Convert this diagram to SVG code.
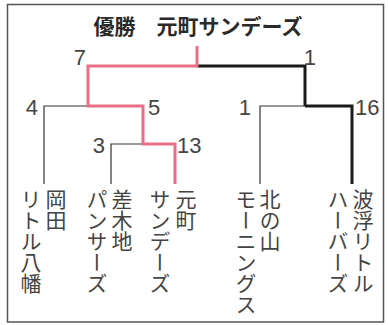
<svg xmlns="http://www.w3.org/2000/svg" width="388" height="325" viewBox="0 0 388 325">
<style>
.num{font-family:"Liberation Sans","Noto Sans",sans-serif;font-size:22px;fill:#444}
.name{font-family:"Noto Sans CJK JP",sans-serif;font-size:21px;fill:#444;writing-mode:vertical-rl}
.thin{stroke:#333;stroke-width:1.2;fill:none}
.pink{stroke:#e86f87;stroke-width:3;fill:none}
.bold{stroke:#1a1a1a;stroke-width:3;fill:none}
</style>
<rect x="7.5" y="4.5" width="376" height="317.5" fill="#fff" stroke="#555" stroke-width="1.5"/>
<text x="198" y="34" text-anchor="middle" font-family="Noto Sans CJK JP, sans-serif" font-size="21" font-weight="bold" fill="#2a2a2a">優勝　元町サンデーズ</text>
<g id="connectors">
<polyline class="thin" points="44,184 44,106 88,106"/>
<polyline class="thin" points="111,184 111,144 143,144"/>
<polyline class="thin" points="260,184 260,106 305,106"/>
<polyline class="bold" points="197,66 305,66 305,106"/>
<polyline class="bold" points="305,106 352,106 352,184"/>
<polyline class="pink" points="197,46 197,66 88,66 88,106 143,106 143,144 175,144 175,184"/>
</g>
<g id="scores">
<text class="num" x="86" y="65" text-anchor="end">7</text>
<text class="num" x="316" y="65" text-anchor="end">1</text>
<text class="num" x="38" y="115" text-anchor="end">4</text>
<text class="num" x="148" y="115">5</text>
<text class="num" x="251" y="115" text-anchor="end">1</text>
<text class="num" x="355" y="115">16</text>
<text class="num" x="105" y="153" text-anchor="end">3</text>
<text class="num" x="177" y="153">13</text>
</g>
<g id="team-okada"><text class="name" x="56" y="189">岡田</text><text class="name" x="31" y="189">リトル八幡</text></g>
<g id="team-sashikiji"><text class="name" x="122" y="189">差木地</text><text class="name" x="97" y="189">パンサーズ</text></g>
<g id="team-motomachi"><text class="name" x="186" y="189">元町</text><text class="name" x="160" y="189">サンデーズ</text></g>
<g id="team-kitanoyama"><text class="name" x="270" y="189">北の山</text><text class="name" x="246" y="189">モーニングス</text></g>
<g id="team-habuminato"><text class="name" x="363" y="189">波浮リトル</text><text class="name" x="338" y="189">ハーバーズ</text></g>
</svg>
